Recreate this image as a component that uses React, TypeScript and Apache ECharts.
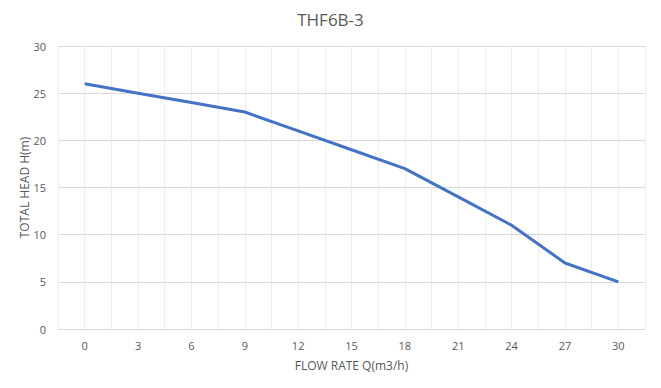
import React, { useEffect, useRef } from "react";
import * as echarts from "echarts";

const flowRates = [0, 3, 6, 9, 12, 15, 18, 21, 24, 27, 30];
const heads = [26, 25, 24, 23, 21, 19, 17, 14, 11, 7, 5];
const titleText = "THF6B-3";
const xName = "FLOW RATE Q(m3/h)";
const yName = "TOTAL HEAD H(m)";

export default function App() {
  const ref = useRef<HTMLDivElement>(null);
  useEffect(() => {
    if (!ref.current) return;
    const chart = echarts.init(ref.current, undefined, { renderer: "svg" });
    const font = "Open Sans";
    chart.setOption({
      animation: false,
      backgroundColor: "#ffffff",
      title: {
        text: titleText,
        left: "center",
        top: 6,
        textStyle: { fontFamily: font, fontSize: 17, fontWeight: "normal", color: "#595959" },
      },
      grid: { left: 58, right: 16, top: 46, bottom: 59 },
      xAxis: {
        type: "value",
        min: -1.5,
        max: 31.5,
        interval: 1.5,
        name: xName,
        nameLocation: "middle",
        nameGap: 30,
        nameMoveOverlap: false,
        nameTextStyle: { fontFamily: font, fontSize: 12, color: "#595959" },
        axisLine: { show: true, lineStyle: { color: "#d9d9d9", width: 1 } },
        axisTick: { show: false },
        axisLabel: {
          fontFamily: font,
          fontSize: 11,
          color: "#595959",
          margin: 11,
          showMinLabel: true,
          showMaxLabel: true,
          formatter: (v: number) => (v >= 0 && v <= 30 && Math.abs(v % 3) < 1e-6 ? String(v) : ""),
        },
        splitLine: { show: true, lineStyle: { color: "#ececec", width: 1 } },
      },
      yAxis: {
        type: "value",
        min: 0,
        max: 30,
        interval: 5,
        name: yName,
        nameLocation: "middle",
        nameGap: 28,
        nameMoveOverlap: false,
        nameRotate: 90,
        nameTextStyle: { fontFamily: font, fontSize: 12, color: "#595959" },
        axisLine: { show: false },
        axisTick: { show: false },
        axisLabel: { fontFamily: font, fontSize: 11, color: "#595959", margin: 12 },
        splitLine: { show: true, lineStyle: { color: "#d9d9d9", width: 1 } },
      },
      series: [
        {
          type: "line",
          data: flowRates.map((x, i) => [x, heads[i]]),
          showSymbol: false,
          symbol: "none",
          lineStyle: { color: "#4472C4", width: 3 },
        },
      ],
    });
    return () => chart.dispose();
  }, []);
  return <div ref={ref} style={{ width: 661, height: 388, position: "absolute", left: 0, top: 0 }} />;
}
